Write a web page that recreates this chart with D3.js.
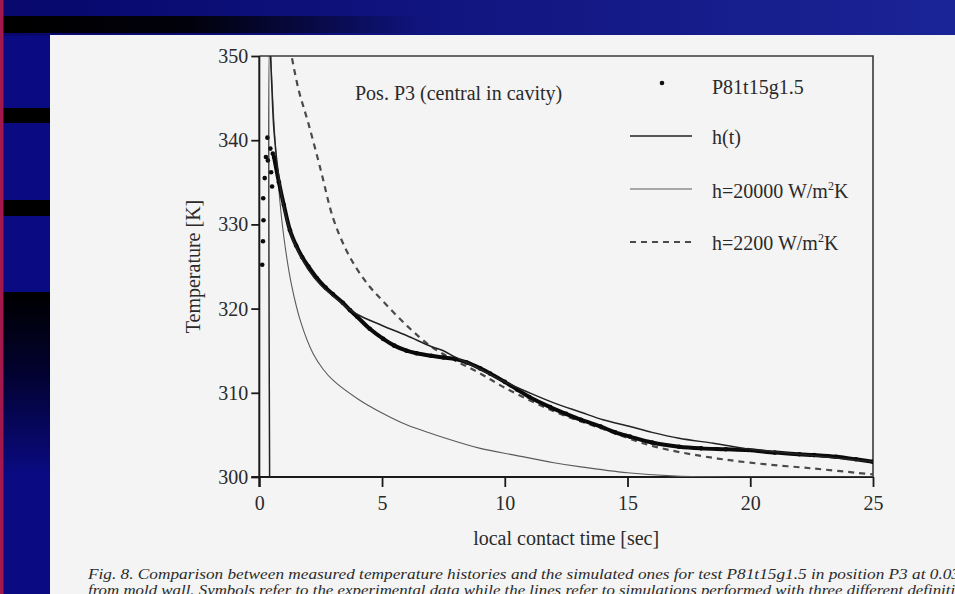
<!DOCTYPE html>
<html>
<head>
<meta charset="utf-8">
<script src="https://cdn.jsdelivr.net/npm/d3@7"></script>
<style>
  html, body { margin: 0; padding: 0; background: #0a0a80; }
  svg { display: block; }
  text { font-family: "Liberation Serif", "DejaVu Serif", serif; fill: #2a2a2a; }
</style>
</head>
<body>
<div id="chart"></div>
<script>
// --- data (time in s, temperature in K)
const measuredEarly = [
  [0.12, 325.2], [0.15, 328.0], [0.17, 330.5], [0.16, 333.1], [0.22, 335.5],
  [0.27, 338.0], [0.35, 337.6], [0.33, 340.3], [0.45, 339.0], [0.48, 336.2],
  [0.52, 334.5], [0.55, 338.4]
];
const measured = [
  [0.6, 338.0], [0.8, 335.0], [1.0, 332.3], [1.25, 329.3], [1.5, 327.5],
  [1.75, 326.1], [2.0, 325.0], [2.35, 323.6], [2.7, 322.5], [3.0, 321.7],
  [3.4, 320.7], [3.7, 319.8], [4.0, 319.0], [4.5, 317.6], [5.05, 316.4],
  [5.5, 315.6], [6.0, 315.0], [6.4, 314.7], [7.0, 314.4], [7.5, 314.2],
  [8.0, 314.0], [8.45, 313.6], [9.0, 312.9], [9.4, 312.3], [10.0, 311.3],
  [10.5, 310.4], [11.0, 309.5], [11.85, 308.3], [12.5, 307.5], [13.1, 306.8],
  [13.9, 306.0], [14.5, 305.3], [15.1, 304.8], [16.0, 304.1], [17.1, 303.6],
  [18.0, 303.4], [19.0, 303.3], [19.9, 303.2], [21.0, 302.9], [22.0, 302.7],
  [22.6, 302.6], [23.5, 302.4], [24.3, 302.1], [25.0, 301.8]
];
const hVariable = [
  [0.42, 300], [0.42, 352], [0.5, 347], [0.6, 341], [0.8, 335.5], [1.0, 332],
  [1.25, 329.2], [1.5, 327.3], [2.0, 324.6], [2.5, 322.8], [3.0, 321.5],
  [3.5, 320.3], [4.0, 319.3], [5.0, 318.0], [6.0, 316.8], [7.0, 315.5],
  [7.5, 315.0], [8.0, 314.2], [9.0, 312.8], [10.0, 311.3], [11.0, 310.0],
  [12.0, 308.8], [13.1, 307.7], [14.0, 306.8], [15.1, 306.0], [16.0, 305.3],
  [17.1, 304.6], [18.5, 304.0], [20.0, 303.3], [21.0, 303.0], [22.0, 302.7],
  [23.0, 302.4], [24.0, 302.1], [25.0, 301.8]
];
const h20000 = [
  [0.44, 352], [0.5, 348], [0.6, 342], [0.8, 334], [1.0, 328.5], [1.3, 323.0],
  [1.7, 318.3], [2.2, 314.6], [2.6, 312.8], [3.0, 311.5], [4.0, 309.3],
  [5.0, 307.6], [6.0, 306.2], [7.6, 304.6], [9.0, 303.4], [10.4, 302.6],
  [12.0, 301.7], [13.1, 301.2], [15.0, 300.5], [17.0, 300.1], [20.0, 300.0],
  [25.0, 300.0]
];
const h2200 = [
  [1.25, 351], [1.6, 346], [2.0, 342], [2.5, 336.5], [3.0, 330.8], [3.5, 327.2],
  [4.0, 324.6], [4.5, 322.6], [5.0, 321.0], [6.0, 318.0], [7.0, 315.5],
  [8.0, 313.8], [9.0, 312.3], [10.0, 310.6], [12.0, 307.8], [14.0, 305.7],
  [16.0, 303.7], [18.0, 302.5], [20.0, 301.7], [22.6, 301.0], [25.0, 300.3]
];
const xTicks = [0, 5, 10, 15, 20, 25];
const yTicks = [300, 310, 320, 330, 340, 350];
const captionLines = [
  "Fig. 8.  Comparison between measured temperature histories and the simulated ones for test P81t15g1.5 in position P3 at 0.03",
  "from mold wall. Symbols refer to the experimental data while the lines refer to simulations performed with three different definition"
];

const W = 955, H = 594;
const svg = d3.select('#chart').append('svg').attr('width', W).attr('height', H);
const defs = svg.append('defs');

// --- slide background
const topGrad = defs.append('linearGradient').attr('id', 'topGrad');
topGrad.append('stop').attr('offset', '0%').attr('stop-color', '#07076c');
topGrad.append('stop').attr('offset', '100%').attr('stop-color', '#1b2496');
const blackBand = defs.append('linearGradient').attr('id', 'blackBand');
blackBand.append('stop').attr('offset', '0%').attr('stop-color', '#000').attr('stop-opacity', 1);
blackBand.append('stop').attr('offset', '45%').attr('stop-color', '#000').attr('stop-opacity', 0.9);
blackBand.append('stop').attr('offset', '100%').attr('stop-color', '#000').attr('stop-opacity', 0);
const leftFade = defs.append('linearGradient').attr('id', 'leftFade').attr('x1', 0).attr('y1', 0).attr('x2', 0).attr('y2', 1);
leftFade.append('stop').attr('offset', '0%').attr('stop-color', '#000');
leftFade.append('stop').attr('offset', '45%').attr('stop-color', '#020230');
leftFade.append('stop').attr('offset', '100%').attr('stop-color', '#0a0a80');

svg.append('rect').attr('width', W).attr('height', H).attr('fill', '#0a0a82');
svg.append('rect').attr('width', W).attr('height', 36).attr('fill', 'url(#topGrad)');
svg.append('rect').attr('x', 3).attr('y', 16).attr('width', 420).attr('height', 17).attr('fill', 'url(#blackBand)');
svg.append('rect').attr('x', 3).attr('y', 108).attr('width', 48).attr('height', 15).attr('fill', '#000');
svg.append('rect').attr('x', 3).attr('y', 200).attr('width', 48).attr('height', 16).attr('fill', '#000');
svg.append('rect').attr('x', 3).attr('y', 292).attr('width', 48).attr('height', 180).attr('fill', 'url(#leftFade)');
svg.append('rect').attr('x', 0).attr('y', 0).attr('width', 3.5).attr('height', H).attr('fill', '#a3184c');
svg.append('rect').attr('x', 50).attr('y', 35).attr('width', W - 50).attr('height', H - 35).attr('fill', '#f4f4f4');

// --- scales
const x = d3.scaleLinear().domain([0, 25]).range([259.3, 873]);
const y = d3.scaleLinear().domain([300, 350]).range([477, 56]);

defs.append('clipPath').attr('id', 'plotClip')
  .append('rect').attr('x', x(0)).attr('y', y(350)).attr('width', x(25) - x(0)).attr('height', y(300) - y(350));

// frame (top and right)
svg.append('path')
  .attr('d', `M${x(0)},${y(350)}H${x(25)}V${y(300)}`)
  .attr('fill', 'none').attr('stroke', '#3a3a3a').attr('stroke-width', 1.6);

// axes
const gx = svg.append('g').attr('transform', `translate(0,${y(300)})`)
  .call(d3.axisBottom(x).tickValues(xTicks).tickSize(10).tickPadding(9).tickFormat(d3.format('d')));
const gy = svg.append('g').attr('transform', `translate(${x(0)},0)`)
  .call(d3.axisLeft(y).tickValues(yTicks).tickSize(8).tickPadding(3).tickFormat(d3.format('d')));
[gx, gy].forEach(g => {
  g.select('.domain').attr('stroke', '#1a1a1a').attr('stroke-width', 2);
  g.selectAll('.tick line').attr('stroke', '#1a1a1a').attr('stroke-width', 1.8);
  g.selectAll('.tick text').attr('font-size', 20).attr('font-family', '"Liberation Serif", serif').attr('fill', '#2a2a2a');
});
gy.select('.domain').attr('d', `M0,${y(350)}V${y(300) + 10}`);
gx.select('.domain').attr('d', `M${x(0) - 8},0H${x(25)}`);

// --- series
const plot = svg.append('g').attr('clip-path', 'url(#plotClip)');
const line = d3.line().x(d => x(d[0])).y(d => y(d[1])).curve(d3.curveCatmullRom.alpha(0.5));

plot.append('path').datum(h20000).attr('d', line)
  .attr('fill', 'none').attr('stroke', '#5a5a5a').attr('stroke-width', 1.1);
plot.append('path').datum(h2200).attr('d', line)
  .attr('fill', 'none').attr('stroke', '#4a4a4a').attr('stroke-width', 2.2).attr('stroke-dasharray', '6,5');
plot.append('path').datum(measured).attr('d', line)
  .attr('fill', 'none').attr('stroke', '#0a0a0a').attr('stroke-width', 4);
plot.append('g').selectAll('circle').data(measuredEarly.concat(measured)).join('circle')
  .attr('cx', d => x(d[0])).attr('cy', d => y(d[1])).attr('r', 2.3).attr('fill', '#0a0a0a');
plot.append('path').datum(hVariable).attr('d', line)
  .attr('fill', 'none').attr('stroke', '#222').attr('stroke-width', 1.5);

// --- annotations and legend
svg.append('text').attr('x', 355).attr('y', 100).attr('font-size', 20).text('Pos. P3 (central in cavity)');

const legend = svg.append('g');
legend.append('circle').attr('cx', 662).attr('cy', 83).attr('r', 2.3).attr('fill', '#111');
legend.append('text').attr('x', 712).attr('y', 94).attr('font-size', 20).text('P81t15g1.5');

legend.append('line').attr('x1', 630).attr('x2', 692).attr('y1', 136).attr('y2', 136)
  .attr('stroke', '#222').attr('stroke-width', 1.5);
legend.append('text').attr('x', 712).attr('y', 144).attr('font-size', 20).text('h(t)');

legend.append('line').attr('x1', 630).attr('x2', 692).attr('y1', 189).attr('y2', 189)
  .attr('stroke', '#5a5a5a').attr('stroke-width', 1.1);
const t1 = legend.append('text').attr('x', 712).attr('y', 198).attr('font-size', 20);
t1.append('tspan').text('h=20000 W/m');
t1.append('tspan').attr('font-size', 12).attr('dy', -8).text('2');
t1.append('tspan').attr('dy', 8).text('K');

legend.append('line').attr('x1', 630).attr('x2', 692).attr('y1', 242).attr('y2', 242)
  .attr('stroke', '#4a4a4a').attr('stroke-width', 2.2).attr('stroke-dasharray', '6,5');
const t2 = legend.append('text').attr('x', 712).attr('y', 250).attr('font-size', 20);
t2.append('tspan').text('h=2200 W/m');
t2.append('tspan').attr('font-size', 12).attr('dy', -8).text('2');
t2.append('tspan').attr('dy', 8).text('K');

// axis titles
svg.append('text').attr('transform', `translate(200,${(y(300) + y(350)) / 2}) rotate(-90)`)
  .attr('text-anchor', 'middle').attr('font-size', 20).text('Temperature [K]');
svg.append('text').attr('x', (x(0) + x(25)) / 2).attr('y', 545)
  .attr('text-anchor', 'middle').attr('font-size', 20).text('local contact time [sec]');

// caption (second line runs off the bottom of the slide, as in the original)
captionLines.forEach((c, i) => {
  svg.append('text').attr('x', 88).attr('y', 579 + i * 16)
    .attr('font-size', 14).attr('font-style', 'italic').attr('fill', '#555')
    .attr('textLength', i === 0 ? 872 : 884).attr('lengthAdjust', 'spacingAndGlyphs')
    .text(c);
});
</script>
</body>
</html>
